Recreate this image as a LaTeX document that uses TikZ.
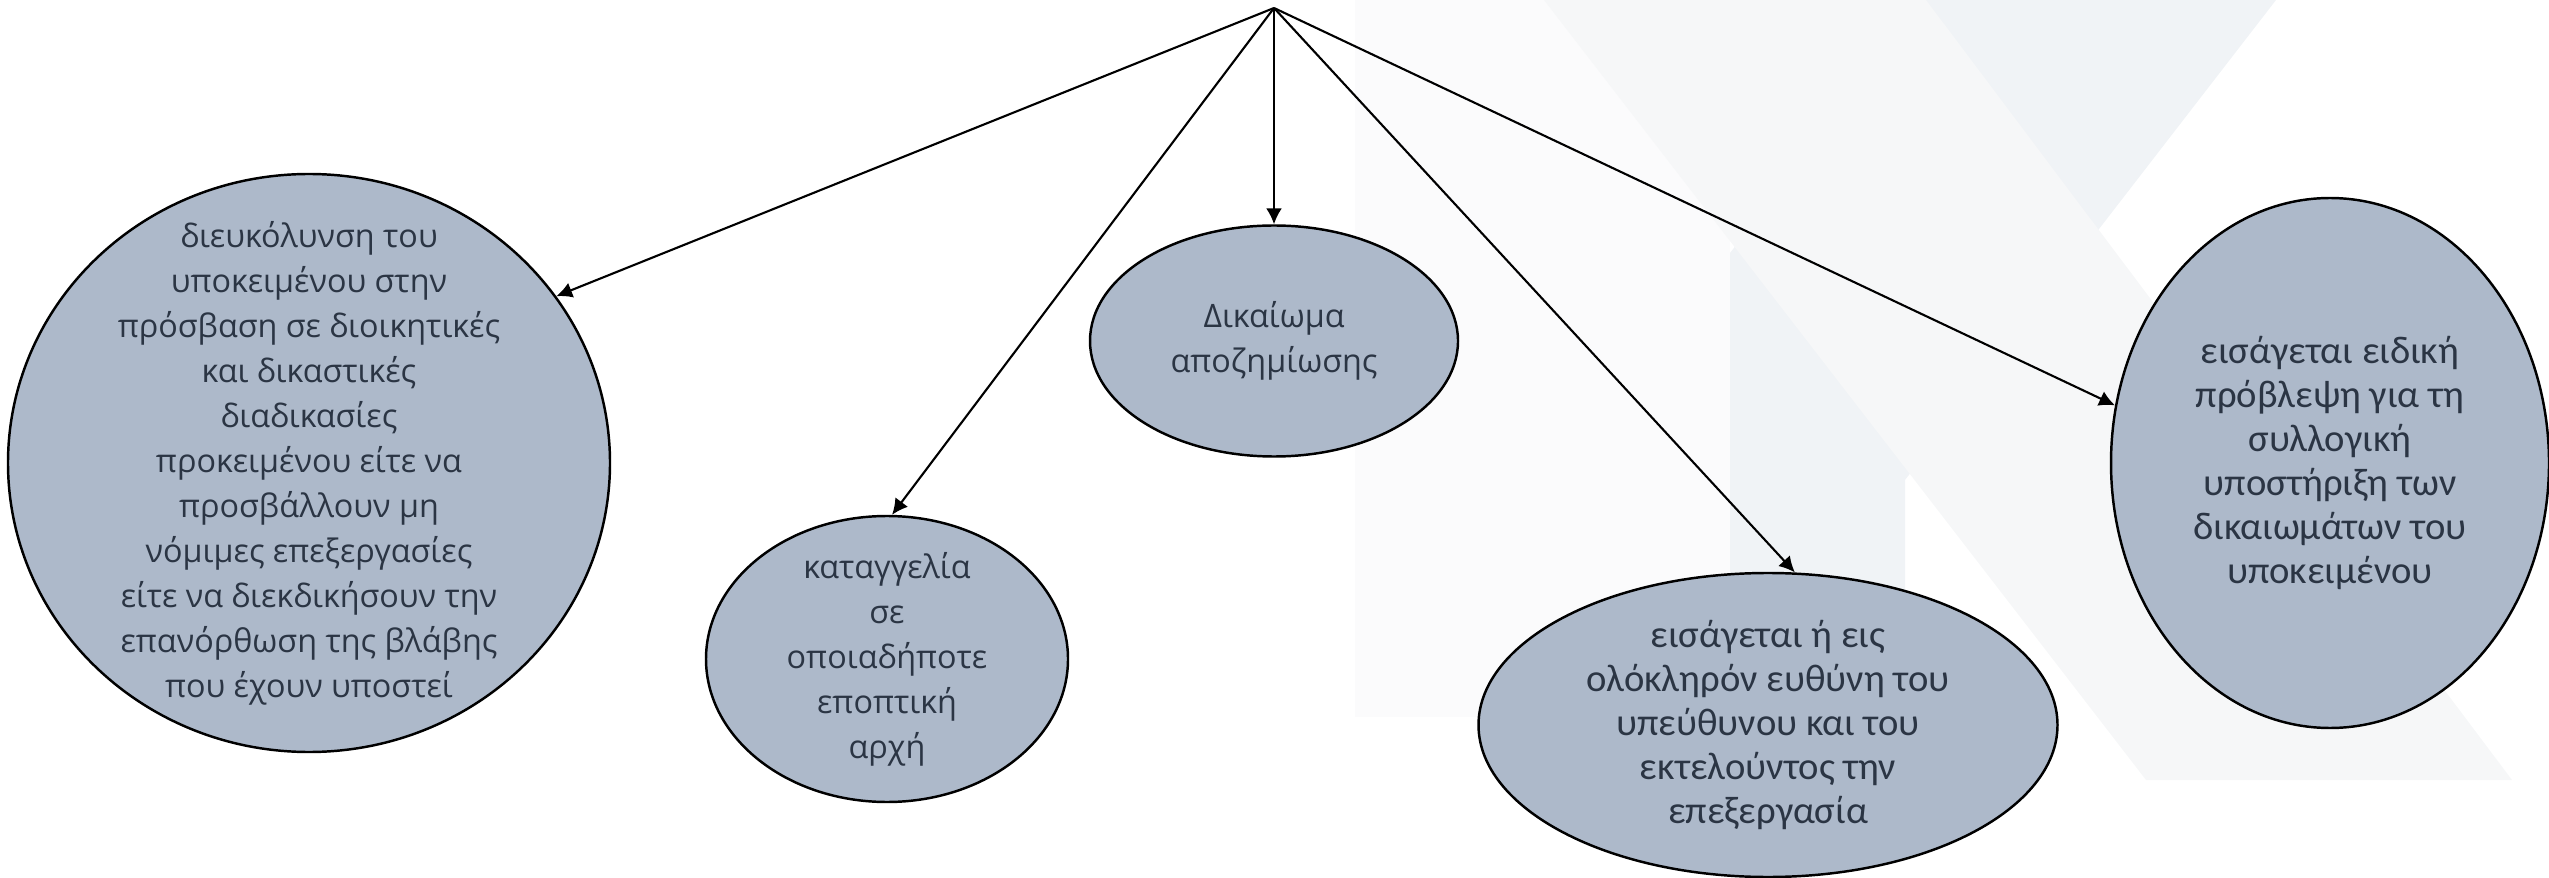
\documentclass[tikz,border=0pt]{standalone}
\usepackage{fontspec}
\setmainfont{Open Sans}
\newfontfamily\calfont{Carlito}
\usetikzlibrary{arrows.meta,shapes.geometric}
\definecolor{bubblefill}{HTML}{ADB9CA}
\definecolor{bubbletext}{HTML}{2B3544}
\definecolor{wmgray}{HTML}{F6F7F8}
\definecolor{wmblue}{HTML}{F0F3F6}
\definecolor{wmpale}{HTML}{FBFBFC}
\tikzset{>={Latex[length=4.5pt,width=4.5pt]}}
\tikzset{bubble/.style={ellipse,draw,line width=0.7pt,fill=bubblefill,inner sep=0pt}}
\tikzset{gtext/.style={text=bubbletext,align=center,font=\fontsize{9.2}{12.8}\selectfont}}
\tikzset{ctext/.style={text=bubbletext,align=center,font=\calfont\fontsize{11}{12.5}\selectfont}}

\begin{document}
\begin{tikzpicture}
    \useasboundingbox (0,0) rectangle (25.49,-8.78);
    % faint logo in the background
    \fill[wmpale] (13.55,0) rectangle (17.30,-7.17);
    \fill[wmblue] (19.26,0) -- (22.76,0) -- (19.05,-4.80) -- (19.05,-7.80)
        -- (17.30,-7.80) -- (17.30,-2.53) -- cycle;
    \fill[wmgray] (15.44,0) -- (19.26,0) -- (25.12,-7.80) -- (21.46,-7.80) -- cycle;

    \coordinate (top) at (12.74,-0.08);
    \node[bubble,minimum width=6.02cm,minimum height=5.78cm,
          label={[gtext]center:{διευκόλυνση του\\ υποκειμένου στην\\ πρόσβαση σε διοικητικές\\ και δικαστικές\\ διαδικασίες\\ προκειμένου είτε να\\ προσβάλλουν μη\\ νόμιμες επεξεργασίες\\ είτε να διεκδικήσουν την\\ επανόρθωση της βλάβης\\ που έχουν υποστεί}}]
          (access) at (3.09,-4.63) {};
    \node[bubble,minimum width=3.62cm,minimum height=2.86cm,
          label={[gtext]center:{καταγγελία\\ σε\\ οποιαδήποτε\\ εποπτική\\ αρχή}}]
          (complaint) at (8.87,-6.59) {};
    \node[bubble,minimum width=3.68cm,minimum height=2.31cm,
          label={[gtext]center:{Δικαίωμα\\ αποζημίωσης}}]
          (compensation) at (12.74,-3.41) {};
    \node[bubble,minimum width=5.79cm,minimum height=3.04cm,
          label={[ctext]center:{εισάγεται ή εις\\ ολόκληρόν ευθύνη του\\ υπεύθυνου και του\\ εκτελούντος την\\ επεξεργασία}}]
          (liability) at (17.68,-7.25) {};
    \node[bubble,minimum width=4.38cm,minimum height=5.30cm,
          label={[ctext]center:{εισάγεται ειδική\\ πρόβλεψη για τη\\ συλλογική\\ υποστήριξη των\\ δικαιωμάτων του\\ υποκειμένου}}]
          (collective) at (23.30,-4.63) {};

    \path[->,line width=0.6pt]
        (top) edge (access.34.6)
        (top) edge (complaint.88)
        (top) edge (compensation.north)
        (top) edge (liability.80)
        (top) edge (collective.165);
\end{tikzpicture}
\end{document}
